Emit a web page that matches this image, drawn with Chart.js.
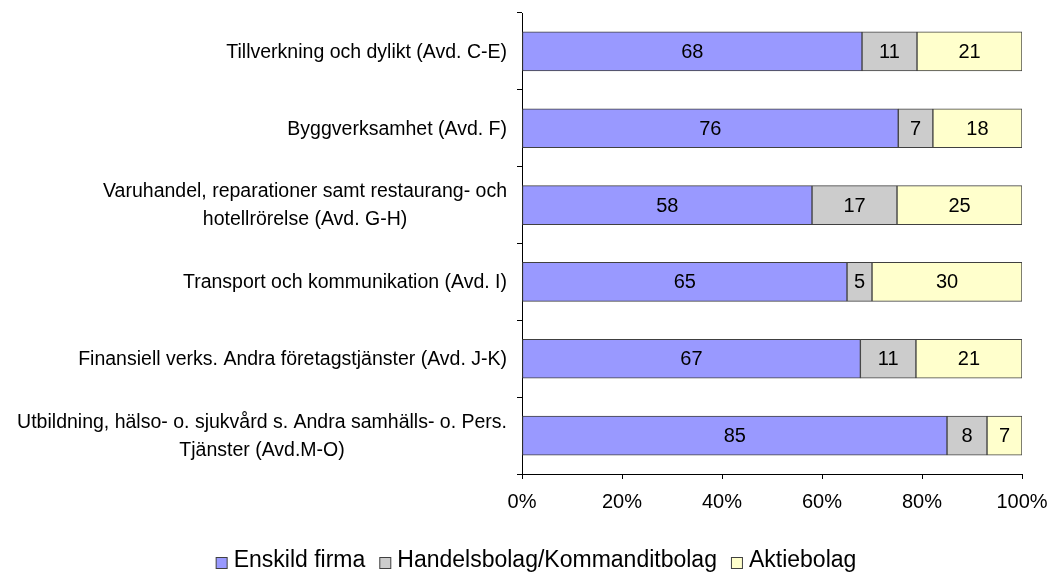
<!DOCTYPE html>
<html>
<head>
<meta charset="utf-8">
<script src="https://cdn.jsdelivr.net/npm/chart.js@4/dist/chart.umd.min.js"></script>
<style>
html,body{margin:0;padding:0;background:#fff;}
#wrap{width:1049px;height:574px;}
</style>
</head>
<body>
<div id="wrap"><canvas id="c" width="1049" height="574"></canvas></div>
<script>
const categories = [
  "Tillverkning och dylikt (Avd. C-E)",
  "Byggverksamhet (Avd. F)",
  ["Varuhandel, reparationer samt restaurang- och", "hotellrörelse (Avd. G-H)"],
  "Transport och kommunikation (Avd. I)",
  "Finansiell verks. Andra företagstjänster (Avd. J-K)",
  ["Utbildning, hälso- o. sjukvård s. Andra samhälls- o. Pers.", "Tjänster (Avd.M-O)"]
];
const enskildFirma = [68, 76, 58, 65, 67, 85];
const handelsbolag = [11, 7, 17, 5, 11, 8];
const aktiebolag = [21, 18, 25, 30, 21, 7];
const seriesNames = ["Enskild firma", "Handelsbolag/Kommanditbolag", "Aktiebolag"];
const xTicks = [0, 20, 40, 60, 80, 100];

const FONT = "'Liberation Sans', Arial, sans-serif";
const raw = [enskildFirma, handelsbolag, aktiebolag];
const totals = categories.map((_, i) => raw.reduce((s, a) => s + a[i], 0));
const colors = ["#9999FF", "#CCCCCC", "#FFFFCC"];

const datasets = raw.map((arr, k) => ({
  label: seriesNames[k],
  data: arr.map((v, i) => v / totals[i] * 100),
  rawValues: arr,
  backgroundColor: colors[k],
  borderColor: "#404040",
  borderWidth: 1,
  borderSkipped: false,
  barThickness: 39
}));

const customText = {
  id: 'customText',
  afterDatasetsDraw(chart) {
    const ctx = chart.ctx;
    ctx.save();
    // value labels inside segments
    ctx.font = "20px " + FONT;
    ctx.fillStyle = "#000";
    ctx.textAlign = "center";
    ctx.textBaseline = "middle";
    chart.data.datasets.forEach((ds, di) => {
      const meta = chart.getDatasetMeta(di);
      meta.data.forEach((el, i) => {
        const p = el.getProps(['x', 'y', 'base'], true);
        ctx.fillText(String(ds.rawValues[i]), (p.x + p.base) / 2, p.y + 1);
      });
    });
    // category labels: right-aligned block, lines centered within block
    const yScale = chart.scales.y;
    const rightX = yScale.right - 15;
    ctx.font = "19.5px " + FONT;
    chart.data.labels.forEach((lab, i) => {
      const lines = Array.isArray(lab) ? lab : [lab];
      const w = Math.max(...lines.map(l => ctx.measureText(l).width));
      const cx = rightX - w / 2;
      const cy = yScale.getPixelForValue(i);
      const lh = 28;
      lines.forEach((l, j) => {
        ctx.fillText(l, cx, cy + 1 + (j - (lines.length - 1) / 2) * lh);
      });
    });
    // legend
    ctx.font = "23px " + FONT;
    ctx.textAlign = "left";
    const box = 12, gap = 6, spacing = 14;
    const widths = chart.data.datasets.map(ds => ctx.measureText(ds.label).width);
    const total = widths.reduce((s, w) => s + w + box + gap, 0) + spacing * (widths.length - 1);
    let x = 536 - total / 2;
    const ty = 561;
    chart.data.datasets.forEach((ds, k) => {
      ctx.fillStyle = ds.backgroundColor;
      ctx.fillRect(x + 0.5, ty - 3.5, box - 1, box - 1);
      ctx.strokeStyle = "#404040";
      ctx.lineWidth = 1;
      ctx.strokeRect(x + 0.5, ty - 3.5, box - 1, box - 1);
      x += box + gap;
      ctx.fillStyle = "#000";
      ctx.fillText(ds.label, x, ty);
      x += widths[k] + spacing;
    });
    ctx.restore();
  }
};

new Chart(document.getElementById('c'), {
  type: 'bar',
  data: { labels: categories, datasets },
  plugins: [customText],
  options: {
    indexAxis: 'y',
    responsive: false,
    animation: false,
    layout: { padding: { left: 0, right: 27, top: 13, bottom: 0 } },
    plugins: {
      tooltip: { enabled: false },
      legend: { display: false }
    },
    scales: {
      x: {
        stacked: true,
        min: 0, max: 100,
        afterBuildTicks(axis) { axis.ticks = xTicks.map(v => ({ value: v })); },
        afterFit(axis) {
          axis.height = 100;
          axis.paddingLeft = 0; axis.paddingRight = 0;
          axis.paddingTop = 0; axis.paddingBottom = 0;
        },
        ticks: {
          font: { family: FONT, size: 20 },
          color: '#000',
          padding: 11,
          callback: v => v + '%',
          maxRotation: 0
        },
        grid: { drawOnChartArea: false, drawTicks: true, tickLength: 5, color: '#000' },
        border: { color: '#000', width: 1 }
      },
      y: {
        stacked: true,
        afterFit(axis) {
          axis.width = 522;
          axis.paddingLeft = 0; axis.paddingRight = 0;
          axis.paddingTop = 0; axis.paddingBottom = 0;
        },
        ticks: { display: false },
        grid: { offset: true, drawOnChartArea: false, drawTicks: true, tickLength: 5, color: '#000' },
        border: { color: '#000', width: 1 }
      }
    }
  }
});
</script>
</body>
</html>
